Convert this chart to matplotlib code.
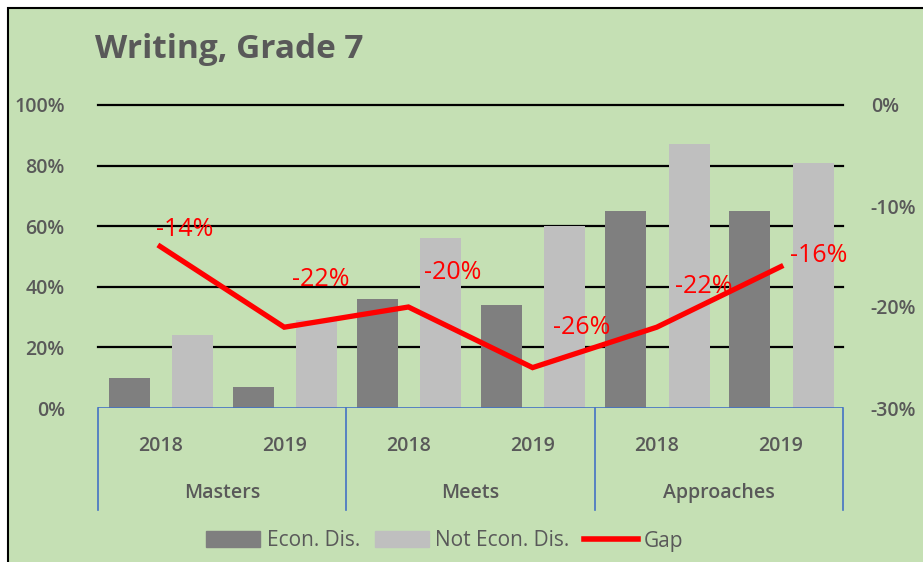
import numpy as np
import matplotlib
matplotlib.use("Agg")
import matplotlib.pyplot as plt
from matplotlib.patches import Rectangle, Patch
from matplotlib.lines import Line2D

plt.rcParams['font.family'] = ['Open Sans', 'DejaVu Sans']

groups = ["Masters", "Meets", "Approaches"]
years = ["2018", "2019"]
econ_dis = [0.10, 0.07, 0.36, 0.34, 0.65, 0.65]
not_econ_dis = [0.24, 0.29, 0.56, 0.60, 0.87, 0.81]
gap = [-0.14, -0.22, -0.20, -0.26, -0.22, -0.16]
gap_labels = ["-14%", "-22%", "-20%", "-26%", "-22%", "-16%"]
label_offsets = [(18, 12), (26, 34), (32, 25), (35, 29), (34, 29), (27, 8)]

green = "#C5E0B4"
text_grey = "#595959"
axis_blue = "#4472C4"

W, H = 923, 562
fig = plt.figure(figsize=(W / 100, H / 100), dpi=100)
fig.patch.set_facecolor("white")
fig.patches.append(Rectangle((8 / W, -0.2), 1.3, 1.2 - 8 / H,
                             transform=fig.transFigure, facecolor=green,
                             edgecolor="black", linewidth=1.5, zorder=0))

left, right, top, bottom = 98, 843, 105, 408
ax = fig.add_axes([left / W, 1 - bottom / H, (right - left) / W, (bottom - top) / H])
ax.set_facecolor("none")
ax2 = ax.twinx()

x = np.arange(len(econ_dis))
ax.bar(x - 0.25, econ_dis, width=0.33, color="#7F7F7F", zorder=3)
ax.bar(x + 0.26, not_econ_dis, width=0.33, color="#BFBFBF", zorder=3)
ax.set_xlim(-0.5, len(econ_dis) - 0.5)
ax.set_ylim(0, 1)
ax.set_yticks(np.arange(0, 1.01, 0.2))
ax.set_yticklabels([f"{int(round(v * 100))}%" for v in np.arange(0, 1.01, 0.2)])
for yv in np.arange(0.2, 1.01, 0.2):
    ax.axhline(yv, color="black", lw=1.6, zorder=1, clip_on=False)

ax2.set_ylim(-0.3, 0)
ax2.set_yticks([-0.3, -0.2, -0.1, 0])
ax2.set_yticklabels(["-30%", "-20%", "-10%", "0%"])
ax2.plot(x, gap, color="red", lw=3.8, zorder=5, solid_joinstyle="miter")
for xi, g, lab, off in zip(x, gap, gap_labels, label_offsets):
    ax2.annotate(lab, (xi, g), xytext=off, textcoords="offset points",
                 ha="center", va="center", color="red", fontsize=18,
                 fontweight="medium")

for a in (ax, ax2):
    for s in a.spines.values():
        s.set_visible(False)
    a.tick_params(length=0, labelsize=14, labelcolor=text_grey)
    for t in a.get_yticklabels():
        t.set_fontweight("semibold")
ax.tick_params(axis="y", pad=24)
ax2.tick_params(axis="y", pad=20)
ax.set_xticks([])
ax.set_zorder(2)
ax2.set_zorder(3)

# category axis
ax.axhline(0, color=axis_blue, lw=1.2, zorder=4)
depth = -(510 - bottom) / (bottom - top)
for b in [-0.5, 1.5, 3.5, 5.5]:
    ax.add_line(Line2D([b, b], [0, depth], color=axis_blue, lw=1.2, clip_on=False))
yr_y = -(446 - bottom) / (bottom - top)
grp_y = -(493 - bottom) / (bottom - top)
for i in x:
    ax.text(i, yr_y, years[i % 2], ha="center", va="center", fontsize=14,
            fontweight="semibold", color=text_grey, transform=ax.get_xaxis_transform())
for j, g in enumerate(groups):
    ax.text(2 * j + 0.5, grp_y, g, ha="center", va="center", fontsize=14,
            fontweight="semibold", color=text_grey, transform=ax.get_xaxis_transform())

fig.text(95 / W, 1 - 50 / H, "Writing, Grade 7", fontsize=24, fontweight="bold",
         color=text_grey, ha="left", va="center")

handles = [Patch(color="#7F7F7F"), Patch(color="#BFBFBF"),
           Line2D([], [], color="red", lw=4)]
fig.legend(handles, ["Econ. Dis.", "Not Econ. Dis.", "Gap"], loc="center",
           bbox_to_anchor=(445 / W, 1 - 541 / H), ncol=3, frameon=False,
           prop={"size": 15}, labelcolor=text_grey, handlelength=2.6,
           handleheight=0.8, handletextpad=0.3, columnspacing=0.7)

fig.savefig("out.png", dpi=100, facecolor=fig.get_facecolor())
